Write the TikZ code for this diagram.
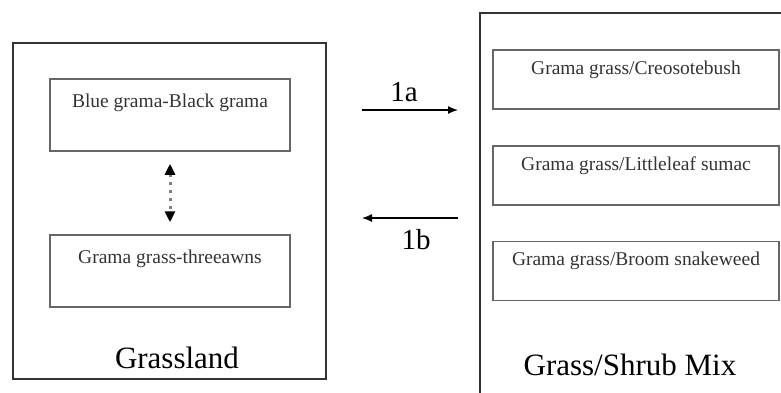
\documentclass[tikz,border=0pt]{standalone}
\usepackage{fontspec}
\setmainfont{Liberation Serif}
\usetikzlibrary{arrows.meta}

\begin{document}
\begin{tikzpicture}[x=1pt,y=-1pt,
  outerbox/.style={draw=black!80,line width=2pt,inner sep=0pt},
  leftbox/.style={draw=black!60,line width=1.5pt,inner sep=0pt,minimum width=240,minimum height=72,
    text height=14,text depth=30,font=\fontsize{19.5}{22}\selectfont,text=black!80},
  rightbox/.style={draw=black!60,line width=1.5pt,inner sep=0pt,minimum width=286,minimum height=59,
    text height=14,text depth=25,font=\fontsize{19.5}{22}\selectfont,text=black!80},
  bigtext/.style={font=\fontsize{31}{34}\selectfont,inner sep=0pt},
  steptext/.style={font=\fontsize{29}{32}\selectfont,inner sep=0pt},
  flow/.style={line width=1.3pt,-{Latex[length=10pt,width=8pt]}}]
\clip (0,0) rectangle (781,392);
% the two states
\node[outerbox,minimum width=313,minimum height=336] (grassland) at (169.5,211) {};
\node[outerbox,minimum width=315,minimum height=392] (shrubmix) at (637.5,209) {};
% communities of the grassland
\node[leftbox] (bluegrama) at (170,115) {Blue grama-Black grama};
\node[leftbox] (threeawns) at (170,271) {Grama grass-threeawns};
\draw[black!50,line width=3pt,dash pattern=on 3pt off 5pt,
  {Triangle[length=11pt,width=10pt,black]}-{Triangle[length=11pt,width=10pt,black]},
  shorten <=12pt,shorten >=12pt] (bluegrama) -- (threeawns);
\node[bigtext] (grasslabel) at (177,358) {Grassland};
% communities of the shrub mix
\node[rightbox] (creosote) at (636,79.5) {Grama grass/Creosotebush};
\node[rightbox] (sumac) at (636,175.5) {Grama grass/Littleleaf sumac};
\node[rightbox] (snakeweed) at (636,271) {Grama grass/Broom snakeweed};
\node[bigtext] (mixlabel) at (630,365) {Grass/Shrub Mix};
% transitions
\coordinate (ain) at (362,110);
\coordinate (aout) at (458,110);
\coordinate (bin) at (458,218);
\coordinate (bout) at (362,218);
\draw[flow] (ain) -- (aout);
\draw[flow] (bin) -- (bout);
\node[steptext] (stepa) at (404,92) {1a};
\node[steptext] (stepb) at (416,240) {1b};
\end{tikzpicture}
\end{document}
